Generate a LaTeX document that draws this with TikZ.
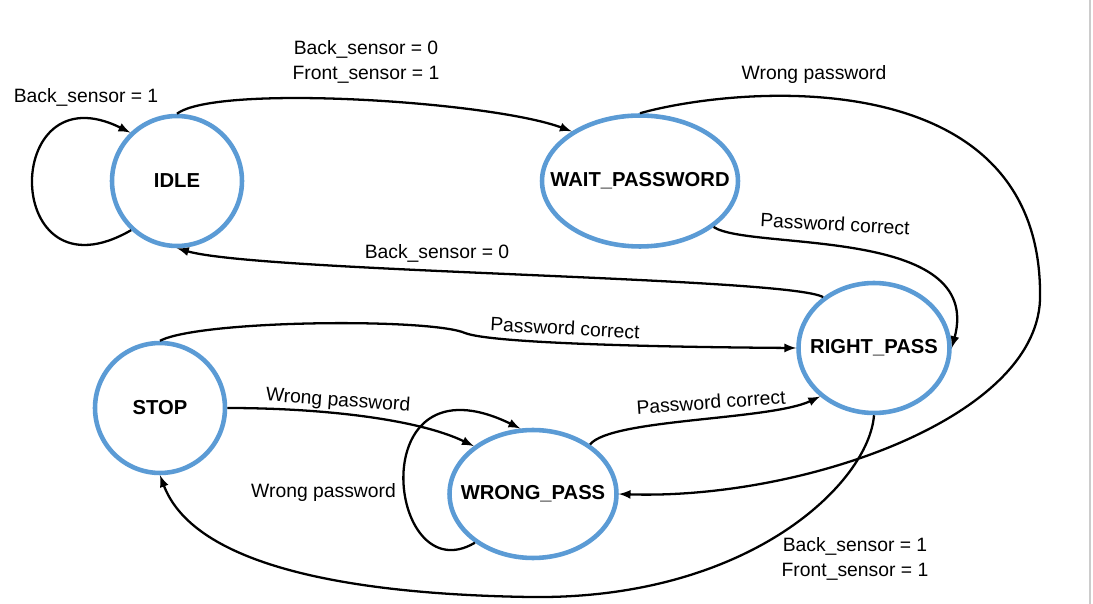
\documentclass[tikz,border=0pt]{standalone}
\usepackage{fontspec}
\setmainfont{Liberation Sans}
\usetikzlibrary{arrows}
\usetikzlibrary{shapes}
\usepackage{xcolor}
\definecolor{stblue}{RGB}{91,155,213}
\newcommand{\stname}[1]{\makebox[0pt]{#1}}

\begin{document}
\begin{tikzpicture}[x=0.02cm,y=-0.02cm]
      \tikzstyle{state}=[draw=stblue,line width=2.6pt,inner sep=0pt,font=\fontsize{11.5}{14}\selectfont\bfseries]
      \tikzstyle{lbl}=[inner sep=0pt,align=center,font=\fontsize{11}{14.5}\selectfont]
      \tikzstyle{tr}=[-latex,line width=1.3pt]
      \useasboundingbox (0,0) rectangle (1093,604);
      \draw[gray!40,line width=0.6pt] (1090,0) -- (1090,604);

      \node[state,circle,minimum size=2.6cm] (idle) at (177,181) {\stname{IDLE}};
      \node[state,ellipse,minimum width=3.92cm,minimum height=2.62cm] (wait) at (640,181) {\stname{WAIT\_PASSWORD}};
      \node[state,ellipse,minimum width=3.02cm,minimum height=2.6cm] (right) at (874,348) {\stname{RIGHT\_PASS}};
      \node[state,circle,minimum size=2.6cm] (stop) at (160,408) {\stname{STOP}};
      \node[state,ellipse,minimum width=3.34cm,minimum height=2.56cm] (wrong) at (533,494) {\stname{WRONG\_PASS}};

      \draw[tr] (idle.227) .. controls +(-130,75) and +(-130,-65) .. (idle.134) node[lbl] at (86,97) {Back\_sensor = 1};
      \draw[tr] (idle.north) .. controls +(40,-30) and +(-80,-30) .. (wait.144) node[lbl] at (366,62) {Back\_sensor = 0\\Front\_sensor = 1};
      \draw[tr] (wait.north) .. controls +(100,-28) and (1045,60) .. (1040,300) .. controls +(-5,120) and +(180,6) .. (wrong.east) node[lbl] at (814,75) {Wrong password};
      \draw[tr] (wait.328) .. controls +(36,24) and (985,225) .. (right.east) node[lbl,rotate=-3] at (835,224) {Password correct};
      \draw[tr] (right.135) .. controls +(-34,-20) and +(83,24) .. (idle.south) node[lbl] at (437,253) {Back\_sensor = 0};
      \draw[tr] (stop.north) .. controls +(42,-21) and +(-35,-15) .. (465,333) .. controls +(25,10) and +(-147,-1) .. (right.west) node[lbl,rotate=-3] at (565,328) {Password correct};
      \draw[tr] (stop.east) .. controls +(95,0) and +(-56,-27) .. (wrong.141) node[lbl,rotate=-4] at (338,401) {Wrong password};
      \draw[tr] (wrong.220) .. controls +(-88,52) and +(-160,-78) .. (wrong.101) node[lbl,anchor=east] at (397,493) {Wrong password};
      \draw[tr] (wrong.41) .. controls +(21,-26) and +(-51,24) .. (right.222) node[lbl,rotate=4] at (711,402) {Password correct};
      \draw[tr] (right.south) .. controls +(-5,67) and +(220,3) .. (530,597) .. controls +(-200,-3) and +(32,85) .. (stop.south) node[lbl] at (855,559) {Back\_sensor = 1\\Front\_sensor = 1};
\end{tikzpicture}
\end{document}
